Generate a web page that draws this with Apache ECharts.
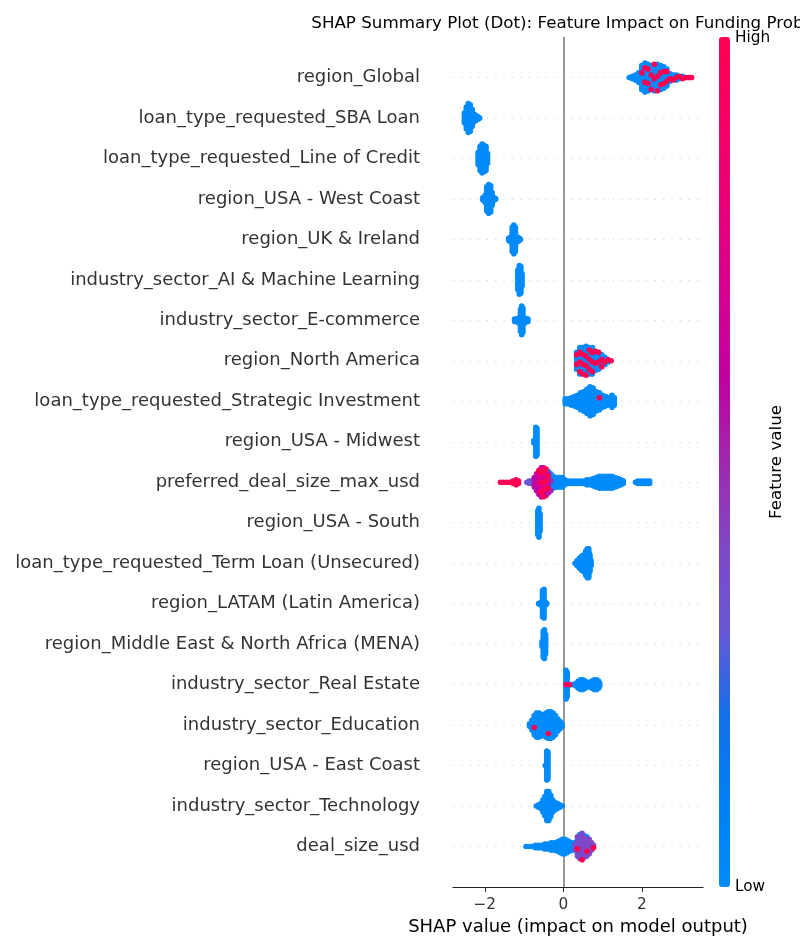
<!DOCTYPE html>
<html><head><meta charset="utf-8">
<script src="https://cdn.jsdelivr.net/npm/echarts@6/dist/echarts.min.js"></script>
<style>html,body{margin:0;padding:0;background:#fff}#c{width:800px;height:950px}</style>
</head><body><div id="c"></div><script>
// Feature names, top to bottom
const featureNames = [
  'region_Global',
  'loan_type_requested_SBA Loan',
  'loan_type_requested_Line of Credit',
  'region_USA - West Coast',
  'region_UK & Ireland',
  'industry_sector_AI & Machine Learning',
  'industry_sector_E-commerce',
  'region_North America',
  'loan_type_requested_Strategic Investment',
  'region_USA - Midwest',
  'preferred_deal_size_max_usd',
  'region_USA - South',
  'loan_type_requested_Term Loan (Unsecured)',
  'region_LATAM (Latin America)',
  'region_Middle East & North Africa (MENA)',
  'industry_sector_Real Estate',
  'industry_sector_Education',
  'region_USA - East Coast',
  'industry_sector_Technology',
  'deal_size_usd'
];
const xTicks = [-2, 0, 2];
const colorLabels = ['High', 'Low'];

// Each bin: [SHAP value, number of samples, feature value (0 = low, 1 = high)]
const region_Global = [
  [1.68,1,0],[1.76,2,0],[1.84,3,0],[1.92,5,0],
  [2.00,10,0],[2.00,1,1],[2.08,11,0],[2.08,2,1],[2.16,10,0],[2.16,2,1],
  [2.24,9,0],[2.24,2,1],[2.32,10,0],[2.32,2,1],[2.40,10,0],[2.40,2,1],
  [2.48,9,0],[2.48,2,1],[2.56,8,0],[2.56,2,1],[2.64,6,0],[2.64,2,1],
  [2.72,3,0],[2.72,1,1],[2.80,2,0],[2.80,1,1],[2.88,2,0],[2.88,1,1],
  [2.96,1,0],[2.96,1,1],[3.04,1,0],[3.04,1,1],[3.12,1,1],[3.20,1,1],[3.27,1,1]
];
const sba_Loan = [
  [-2.52,5,0],[-2.47,10,0],[-2.42,13,0],[-2.37,12,0],[-2.32,8,0],
  [-2.27,4,0],[-2.22,3,0],[-2.17,2,0],[-2.13,1,0]
];
const line_of_Credit = [
  [-2.17,6,0],[-2.12,11,0],[-2.07,13,0],[-2.02,12,0],[-1.97,11,0],[-1.93,5,0]
];
const west_Coast = [
  [-2.05,2,0],[-1.99,4,0],[-1.95,11,0],[-1.90,13,0],[-1.85,12,0],
  [-1.81,6,0],[-1.76,2,0],[-1.72,1,0]
];
const uk_Ireland = [
  [-1.39,2,0],[-1.34,3,0],[-1.30,11,0],[-1.26,13,0],[-1.22,11,0],
  [-1.17,3,0],[-1.12,2,0],[-1.09,1,0]
];
const ai_ML = [
  [-1.16,9,0],[-1.12,13,0],[-1.08,12,0],[-1.05,6,0]
];
const ecommerce = [
  [-1.24,2,0],[-1.19,2,0],[-1.14,3,0],[-1.09,10,0],[-1.06,13,0],
  [-1.03,11,0],[-0.98,3,0],[-0.94,2,0],[-0.90,2,0]
];
const north_America = [
  [0.34,6,0],[0.34,2,1],[0.42,9,0],[0.42,3,1],[0.50,9,0],[0.50,3,1],
  [0.58,10,0],[0.58,3,1],[0.66,9,0],[0.66,3,1],[0.74,9,0],[0.74,3,1],
  [0.82,7,0],[0.82,2,1],[0.90,6,0],[0.90,2,1],[0.98,4,0],[0.98,2,1],
  [1.06,3,0],[1.06,1,1],[1.14,1,0],[1.14,1,1],[1.22,1,1]
];
const strategic = [
  [0.05,3,0],[0.12,3,0],[0.20,4,0],[0.28,5,0],[0.36,6,0],[0.44,8,0],
  [0.52,9,0],[0.60,11,0],[0.68,13,0],[0.76,12,0],[0.84,9,0],
  [0.92,7,0],[0.92,1,1],[1.00,6,0],[1.08,5,0],[1.16,4,0],[1.24,6,0],[1.30,4,0]
];
const midwest = [
  [-0.75,2,0],[-0.70,13,0],[-0.67,12,0]
];
const pref_Deal = [
  [-1.60,1,1],[-1.52,1,1],[-1.44,1,1],[-1.36,1,1],[-1.28,2,1],[-1.20,3,1],[-1.14,2,1],
  [-0.93,1,0.3],[-0.87,2,0.3],[-0.80,2,0.32],
  [-0.74,4,0.55],[-0.74,1,0.35],
  [-0.68,6,0.58],[-0.68,2,0.68],
  [-0.62,7,0.58],[-0.62,3,0.66],[-0.62,1,1],
  [-0.56,6,0.58],[-0.56,4,0.68],[-0.56,3,1],
  [-0.50,5,0.58],[-0.50,4,0.68],[-0.50,4,1],
  [-0.44,5,0.55],[-0.44,3,1],[-0.44,4,0],
  [-0.38,4,0.55],[-0.38,2,1],[-0.38,4,0],
  [-0.32,2,0.5],[-0.32,6,0],
  [-0.26,6,0],[-0.20,5,0],[-0.14,5,0],[-0.08,5,0],[-0.02,5,0],[0.04,3,0],
  [0.12,2,0],[0.20,2,0],[0.28,2,0],[0.36,2,0],[0.44,2,0],[0.52,2,0],[0.60,3,0],
  [0.68,3,0],[0.76,4,0],[0.84,5,0],[0.92,6,0],[1.00,6,0],[1.08,6,0],[1.16,6,0],
  [1.24,6,0],[1.32,5,0],[1.40,4,0],[1.47,3,0],[1.53,2,0],
  [1.84,1,0],[1.90,2,0],[1.98,2,0],[2.06,2,0],[2.14,2,0],[2.20,2,0]
];
const south = [
  [-0.65,11,0],[-0.62,13,0],[-0.59,8,0]
];
const term_Loan = [
  [0.30,1,0],[0.35,3,0],[0.41,5,0],[0.47,7,0],[0.52,8,0],[0.57,11,0],
  [0.61,13,0],[0.65,13,0],[0.68,8,0],[0.71,3,0]
];
const latam = [
  [-0.63,1,0],[-0.58,2,0],[-0.53,12,0],[-0.49,13,0],[-0.45,2,0],[-0.42,1,0]
];
const mena = [
  [-0.54,3,0],[-0.51,12,0],[-0.48,13,0],[-0.45,9,0]
];
const real_Estate = [
  [0.07,12,0],[0.07,1,1],[0.10,11,0],[0.16,1,1],[0.20,1,0],[0.26,1,0],
  [0.32,2,0],[0.38,4,0],[0.44,5,0],[0.50,5,0],[0.56,4,0],[0.62,2,0],
  [0.67,3,0],[0.73,4,0],[0.79,5,0],[0.85,5,0],[0.90,4,0],[0.93,2,0]
];
const education = [
  [-0.86,2,0],[-0.80,5,0],[-0.74,8,0],[-0.74,1,1],[-0.68,11,0],[-0.62,11,0],
  [-0.56,10,0],[-0.50,9,0],[-0.44,11,0],[-0.38,11,0],[-0.38,1,1],
  [-0.32,12,0],[-0.26,11,0],[-0.20,9,0],[-0.14,6,0],[-0.08,4,0],[-0.03,2,0]
];
const east_Coast = [
  [-0.46,1,0],[-0.42,13,0],[-0.39,12,0]
];
const technology = [
  [-0.69,1,0],[-0.63,2,0],[-0.57,3,0],[-0.52,6,0],[-0.47,9,0],[-0.42,13,0],
  [-0.37,13,0],[-0.32,10,0],[-0.27,6,0],[-0.21,4,0],[-0.15,3,0],
  [-0.09,2,0],[-0.03,1,0]
];
const deal_Size = [
  [-0.95,1,0],[-0.87,1,0],[-0.79,1,0],[-0.71,2,0],[-0.63,2,0],[-0.55,2,0],
  [-0.47,3,0],[-0.39,3,0],[-0.31,4,0],[-0.23,4,0],[-0.15,5,0],[-0.08,6,0],
  [-0.02,7,0],[0.04,7,0],[0.10,6,0],[0.16,5,0],[0.22,4,0],
  [0.30,2,0],[0.30,2,0.38],
  [0.36,3,0],[0.36,5,0.38],[0.36,1,1],
  [0.42,4,0],[0.42,7,0.38],
  [0.48,3,0],[0.48,8,0.38],[0.48,1,1],
  [0.54,3,0],[0.54,7,0.4],
  [0.60,2,0],[0.60,6,0.4],[0.60,1,1],
  [0.66,2,0],[0.66,5,0.4],
  [0.72,1,0],[0.72,3,0.4],
  [0.77,1,0.4],[0.77,1,1]
];

const rows = [region_Global, sba_Loan, line_of_Credit, west_Coast, uk_Ireland, ai_ML,
  ecommerce, north_America, strategic, midwest, pref_Deal, south, term_Loan, latam,
  mena, real_Estate, education, east_Coast, technology, deal_Size];

const N = featureNames.length;
const STEP = 0.0593; // vertical spacing between stacked dots, in row units

// Beeswarm-style stacking: samples in the same SHAP bin stack symmetrically around the row line
function swarm(bins, rowY) {
  const groups = new Map();
  bins.forEach(([x, n, fv]) => {
    if (!groups.has(x)) groups.set(x, []);
    groups.get(x).push([n, fv]);
  });
  const pts = [];
  let col = 0;
  groups.forEach((list, x) => {
    const total = list.reduce((s, g) => s + g[0], 0);
    const used = list.map(() => 0);
    const seq = [];
    for (let k = 0; k < total; k++) {
      let best = -1, bestScore = -Infinity;
      list.forEach((g, i) => {
        if (used[i] < g[0]) {
          const score = (k + 1) * g[0] / total - used[i];
          if (score > bestScore) { bestScore = score; best = i; }
        }
      });
      used[best]++;
      seq.push(list[best][1]);
    }
    // rotate the mix per column so that mixed colours do not line up in rows
    const shift = (col * 5) % Math.max(total, 1);
    const rot = seq.slice(shift).concat(seq.slice(0, shift));
    rot.forEach((fv, k) => pts.push([x, rowY + (k - (total - 1) / 2) * STEP, fv]));
    col++;
  });
  return pts;
}

let points = [];
rows.forEach((bins, i) => { points = points.concat(swarm(bins, N - 1 - i)); });
points.sort((a, b) => a[2] - b[2]);

const FONT = 'DejaVu Sans';
const cmap = ['#008bfb','#0080f4','#1270e8','#6658d6','#8048c6','#9f28b0','#c000a2','#d60090','#e8007a','#f60066','#ff0052'];

const gridMarks = [];
for (let i = 0; i < N; i++) {
  gridMarks.push({ yAxis: i, lineStyle: { color: '#cccccc', width: 0.7, type: [1.4, 7] } });
}
gridMarks.push({ xAxis: 0, lineStyle: { color: '#999999', width: 2, type: 'solid' } });

const chart = echarts.init(document.getElementById('c'), null, { renderer: 'canvas' });
chart.setOption({
  backgroundColor: '#ffffff',
  animation: false,
  title: {
    text: 'SHAP Summary Plot (Dot): Feature Impact on Funding Probability',
    left: 578, top: 10, textAlign: 'center',
    textStyle: { fontFamily: FONT, fontSize: 16.7, fontWeight: 'normal', color: '#000' }
  },
  grid: { left: 453, right: 97, top: 37, bottom: 63, containLabel: false },
  xAxis: {
    type: 'value', min: -2.81, max: 3.56,
    axisLine: { show: true, onZero: false, lineStyle: { color: '#222', width: 1.1 } },
    axisTick: { show: true, customValues: xTicks, length: 5, lineStyle: { color: '#333', width: 1.1 } },
    axisLabel: { customValues: xTicks, margin: 11, fontFamily: FONT, fontSize: 15.3, color: '#333',
      formatter: v => (v < 0 ? '\u2212' + Math.abs(v) : String(v)) },
    splitLine: { show: false },
    name: 'SHAP value (impact on model output)',
    nameLocation: 'middle', nameGap: 29,
    nameTextStyle: { fontFamily: FONT, fontSize: 18, color: '#000' }
  },
  yAxis: {
    type: 'value', min: -1, max: N, interval: 1,
    axisLine: { show: false, onZero: false }, axisTick: { show: false }, splitLine: { show: false },
    axisLabel: {
      margin: 33, fontFamily: FONT, fontSize: 18, color: '#333', padding: [4, 0, 0, 0],
      formatter: v => (v >= 0 && v < N && Number.isInteger(v)) ? featureNames[N - 1 - v] : ''
    }
  },
  visualMap: {
    type: 'continuous', min: 0, max: 1, dimension: 2, seriesIndex: 1,
    calculable: false, hoverLink: false, orient: 'vertical',
    left: 719, top: 37, itemWidth: 11, itemHeight: 850, padding: 0,
    inRange: { color: cmap }
  },
  graphic: [
    { type: 'text', x: 735, y: 38, style: { text: colorLabels[0], font: '15.3px "DejaVu Sans"', fill: '#000', align: 'left', verticalAlign: 'middle' } },
    { type: 'text', x: 735, y: 887, style: { text: colorLabels[1], font: '15.3px "DejaVu Sans"', fill: '#000', align: 'left', verticalAlign: 'middle' } },
    { type: 'text', x: 777, y: 462, rotation: Math.PI / 2, style: { text: 'Feature value', font: '16.7px "DejaVu Sans"', fill: '#000', align: 'center', verticalAlign: 'middle' } }
  ],
  series: [
    {
      type: 'line', data: [], silent: true, z: 1,
      markLine: { z: 1, silent: true, symbol: 'none', label: { show: false }, animation: false, data: gridMarks }
    },
    {
      type: 'scatter', z: 3, symbol: 'circle', symbolSize: 5.6, silent: true,
      itemStyle: { opacity: 1 }, large: false,
      data: points
    }
  ]
});
</script></body></html>
